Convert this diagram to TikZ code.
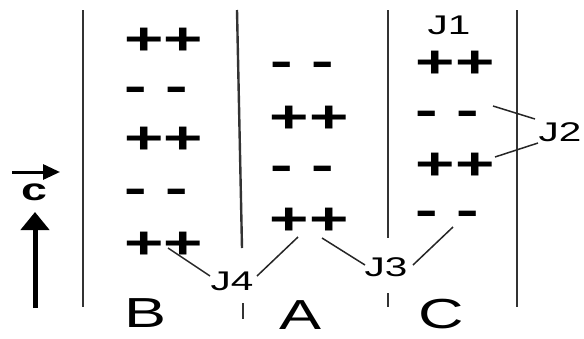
\documentclass[tikz,border=0pt]{standalone}
\usepackage{fontspec}
\setmainfont{Liberation Sans}
\usetikzlibrary{arrows.meta}
\newcommand\hstretch[1]{\scalebox{1.5}[1]{#1}}
\begin{document}
\begin{tikzpicture}[x=1pt,y=-1pt,
  chg/.style={anchor=base, inner sep=0pt, font=\fontsize{45}{45}\selectfont\bfseries},
  jlab/.style={anchor=base, inner sep=0pt, font=\fontsize{27}{27}\selectfont},
  reg/.style={anchor=base, inner sep=0pt, font=\fontsize{42}{42}\selectfont},
  wall/.style={line width=2.4pt, draw=black!80},
  conn/.style={line width=1.5pt, draw=black!85}]
\useasboundingbox (0,0) rectangle (584,338);
% walls
\coordinate (w1t) at (83,10);  \coordinate (w1b) at (83,307);
\coordinate (w2t) at (237,10); \coordinate (w2b) at (242,248);
\coordinate (t2t) at (243,303); \coordinate (t2b) at (243,319);
\coordinate (w3t) at (388,10); \coordinate (w3b) at (388,238);
\coordinate (t3t) at (388,293); \coordinate (t3b) at (388,307);
\coordinate (w4t) at (517,10); \coordinate (w4b) at (517,307);
\draw[wall] (w1t) -- (w1b);
\draw[wall] (w2t) -- (w2b);
\draw[wall] (t2t) -- (t2b);
\draw[wall] (w3t) -- (w3b);
\draw[wall] (t3t) -- (t3b);
\draw[wall] (w4t) -- (w4b);
% column B
\node[chg] (b1) at (163.5,54.2) {\hstretch{++}};
\node[chg] (b2) at (156,101.1) {\hstretch{- -}};
\node[chg] (b3) at (163.5,153.2) {\hstretch{++}};
\node[chg] (b4) at (156,203.1) {\hstretch{- -}};
\node[chg] (b5) at (163.5,258.2) {\hstretch{++}};
% column A
\node[chg] (a1) at (302,76.1) {\hstretch{- -}};
\node[chg] (a2) at (309,132.2) {\hstretch{++}};
\node[chg] (a3) at (302,180.1) {\hstretch{- -}};
\node[chg] (a4) at (309,234.2) {\hstretch{++}};
% column C
\node[chg] (c1) at (455,77.2) {\hstretch{++}};
\node[chg] (c2) at (447,125.1) {\hstretch{- -}};
\node[chg] (c3) at (455,179.2) {\hstretch{++}};
\node[chg] (c4) at (447,225.1) {\hstretch{- -}};
% junction labels
\node[jlab] (J1) at (449,34.5) {\hstretch{J1}};
\node[jlab] (J2) at (560,141.5) {\hstretch{J2}};
\node[jlab] (J3) at (386,276.5) {\hstretch{J3}};
\node[jlab] (J4) at (232,290.5) {\hstretch{J4}};
% region labels
\node[reg] (B) at (146,327) {\hstretch{B}};
\node[reg] (A) at (301,329) {\hstretch{A}};
\node[reg] (C) at (441,328.5) {\hstretch{C}};
% connectors
\coordinate (p4a) at (168,248); \coordinate (q4a) at (210,276);
\coordinate (p4b) at (298,237); \coordinate (q4b) at (257,276);
\coordinate (p3a) at (322,238); \coordinate (q3a) at (365,265);
\coordinate (p3b) at (453,227); \coordinate (q3b) at (413,265);
\coordinate (p2a) at (493,106); \coordinate (q2a) at (535,119);
\coordinate (p2b) at (495,157); \coordinate (q2b) at (538,143);
\draw[conn] (p4a) -- (q4a);
\draw[conn] (p4b) -- (q4b);
\draw[conn] (p3a) -- (q3a);
\draw[conn] (p3b) -- (q3b);
\draw[conn] (p2a) -- (q2a);
\draw[conn] (p2b) -- (q2b);
% c vector
\node[anchor=base, inner sep=0pt, font=\fontsize{31}{31}\selectfont\bfseries] (cv) at (34,200) {\hstretch{c}};
\coordinate (hs) at (12,172); \coordinate (he) at (60,172);
\draw[line width=3pt, -{Triangle[length=17pt,width=15pt]}] (hs) -- (he);
\coordinate (us) at (35,308); \coordinate (ue) at (35,212);
\draw[line width=5pt, -{Triangle[length=18pt,width=28pt]}] (us) -- (ue);
\end{tikzpicture}
\end{document}
